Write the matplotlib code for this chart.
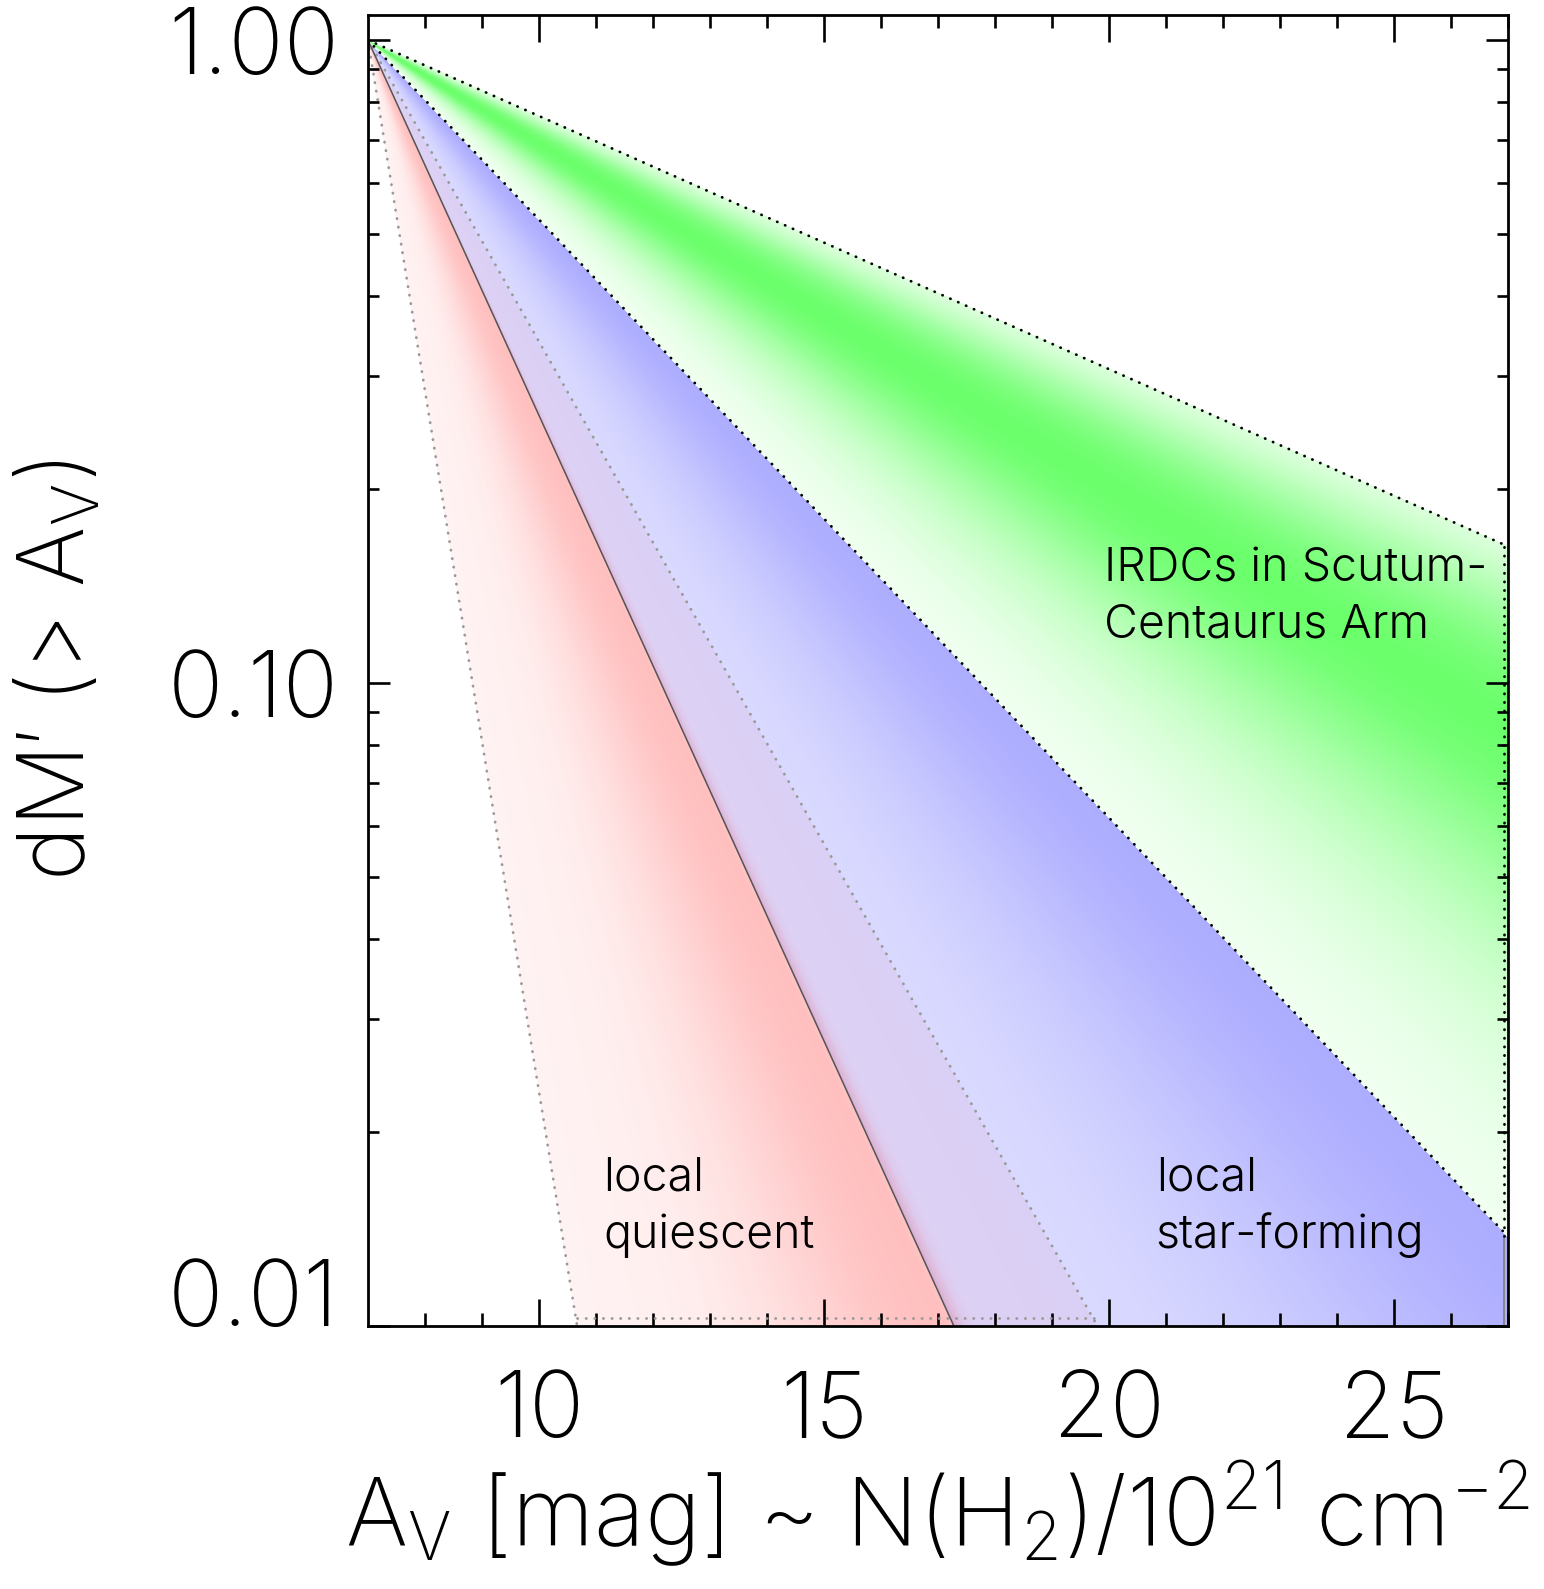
import numpy as np
import matplotlib
matplotlib.use('Agg')
import matplotlib.pyplot as plt
from matplotlib.ticker import FixedLocator, NullFormatter

plt.rcParams['font.family'] = ['Inter', 'DejaVu Sans']
plt.rcParams['font.weight'] = 200
plt.rcParams['axes.labelweight'] = 200
plt.rcParams['mathtext.fontset'] = 'custom'
plt.rcParams['mathtext.rm'] = 'Inter:weight=200'
plt.rcParams['mathtext.it'] = 'Inter:weight=200'

# axis ranges
AV0 = 7.0
x_range = [7, 27]
y_range = [0.01, 1.094]

# each band: scale length of the exponential fall-off (mag per dex), lower / upper edge and peak
red_edges = [1.835, 6.40]
red_peak = 5.08
blue_edges = [5.14, 10.75]
blue_peak = 10.75
green_edges = [10.75, 25.4]
green_peak = 18.7

# shading: (base alpha, peak alpha, width below peak, width above peak)
red_shade = [0.05, 0.25, 1.05, 0.1]
blue_shade = [0.13, 0.32, 2.0, 2.0]
green_shade = [0.02, 0.58, 3.4, 3.8]

x_ticks = [10, 15, 20, 25]
x_minor = [8, 9, 11, 12, 13, 14, 16, 17, 18, 19, 21, 22, 23, 24, 26, 27]
y_ticks = [0.01, 0.1, 1.0]
y_ticklabels = ['0.01', '0.10', '1.00']

labels = ['IRDCs in Scutum-\nCentaurus Arm', 'local\nquiescent', 'local\nstar-forming']
label_pos = [(19.92, 0.136), (11.13, 0.0153), (20.82, 0.0153)]

bands = [
    (red_edges, red_peak, red_shade, np.array([1.0, 0.0, 0.0])),
    (blue_edges, blue_peak, blue_shade, np.array([0.0, 0.0, 1.0])),
    (green_edges, green_peak, green_shade, np.array([0.0, 1.0, 0.0])),
]


def curve(x, lam):
    return 10 ** (-(x - AV0) / lam)


def band_alpha(lam, edges, peak, shade):
    base, top, w_lo, w_hi = shade
    if lam < edges[0] or lam > edges[1]:
        return 0.0
    w = w_lo if lam < peak else w_hi
    return base + (top - base) * np.exp(-0.5 * ((lam - peak) / w) ** 2)


# fan of thin wedges; colour of each is the layered mix red -> blue -> green over white
cuts = np.unique(np.concatenate([np.linspace(e[0], e[1], 120) for e, _, _, _ in bands]))

fig = plt.figure(figsize=(15.44, 15.89), dpi=100)
ax = fig.add_axes([0.2383, 0.1655, 0.7383, 0.8251])
ax.set_yscale('log')
ax.set_xlim(x_range)
ax.set_ylim(y_range)

x = np.array(x_range, dtype=float)
for l1, l2 in zip(cuts[:-1], cuts[1:]):
    lm = 0.5 * (l1 + l2)
    col = np.ones(3)
    for edges, peak, shade, rgb in bands:
        a = band_alpha(lm, edges, peak, shade)
        col = col * (1 - a) + rgb * a
    ax.fill_between(x, curve(x, l1), curve(x, l2), facecolor=col,
                    edgecolor='none', linewidth=0, antialiased=False, zorder=1)

xx = np.array(x_range, dtype=float)
dot = (0, (0.1, 3.0))
dkw = dict(lw=2.0, ls=dot, dash_capstyle='round', zorder=3)
# red outline (grey dotted)
ax.plot(xx, curve(xx, red_edges[0]), color='#999999', **dkw)
ax.plot(xx, curve(xx, red_edges[1]), color='#999999', **dkw)
xb = [AV0 + 2 * red_edges[0], AV0 + 2 * red_edges[1]]
ax.plot(xb, [0.0103, 0.0103], color='#999999', **dkw)
# blue lower edge (solid) and right edge
ax.plot(xx, curve(xx, blue_edges[0]), color='#555555', lw=1.1, zorder=3)
ax.plot([26.93, 26.93], [0.01, curve(27, blue_edges[1])], color='#888888', lw=1.4, zorder=3)
# green outline (black dotted)
ax.plot(xx, curve(xx, green_edges[0]), color='black', **dkw)
ax.plot(xx, curve(xx, green_edges[1]), color='black', **dkw)
ax.plot([26.93, 26.93], [curve(27, green_edges[0]), curve(27, green_edges[1])],
        color='black', **dkw)

for txt, (lx, ly) in zip(labels, label_pos):
    ax.text(lx, ly, txt, fontsize=33.5, fontweight=300, ha='left', va='center',
            linespacing=1.35, zorder=4)

# ticks
ax.xaxis.set_major_locator(FixedLocator(x_ticks))
ax.xaxis.set_minor_locator(FixedLocator(x_minor))
ax.set_xticklabels([str(t) for t in x_ticks])
ax.yaxis.set_major_locator(FixedLocator(y_ticks))
ax.yaxis.set_minor_locator(FixedLocator([m * 10.0 ** e for e in (-2, -1) for m in range(2, 10)]))
ax.yaxis.set_minor_formatter(NullFormatter())
ax.set_yticklabels(y_ticklabels)
ax.tick_params(which='both', direction='in', top=True, right=True, width=1.9, labelsize=66)
ax.tick_params(axis='x', which='major', length=19.5, pad=32)
ax.tick_params(axis='x', which='minor', length=9.5)
ax.tick_params(axis='y', which='major', length=16, pad=21)
ax.tick_params(axis='y', which='minor', length=8)
ylabs = ax.get_yticklabels()
ylabs[0].set_verticalalignment('baseline')
for sp in ax.spines.values():
    sp.set_linewidth(2.0)
    sp.set_zorder(5)

ax.set_xlabel(r'A$_\mathrm{V}$ [mag] ~ N(H$_2$)/10$^{21}$ cm$^{-2}$', fontsize=68)
ax.xaxis.set_label_coords(0.5, -0.101)
ax.set_ylabel(r'dM′ (> A$_\mathrm{V}$)', fontsize=66)
ax.yaxis.set_label_coords(-0.232, 0.5)

fig.savefig('out.png', dpi=100)
